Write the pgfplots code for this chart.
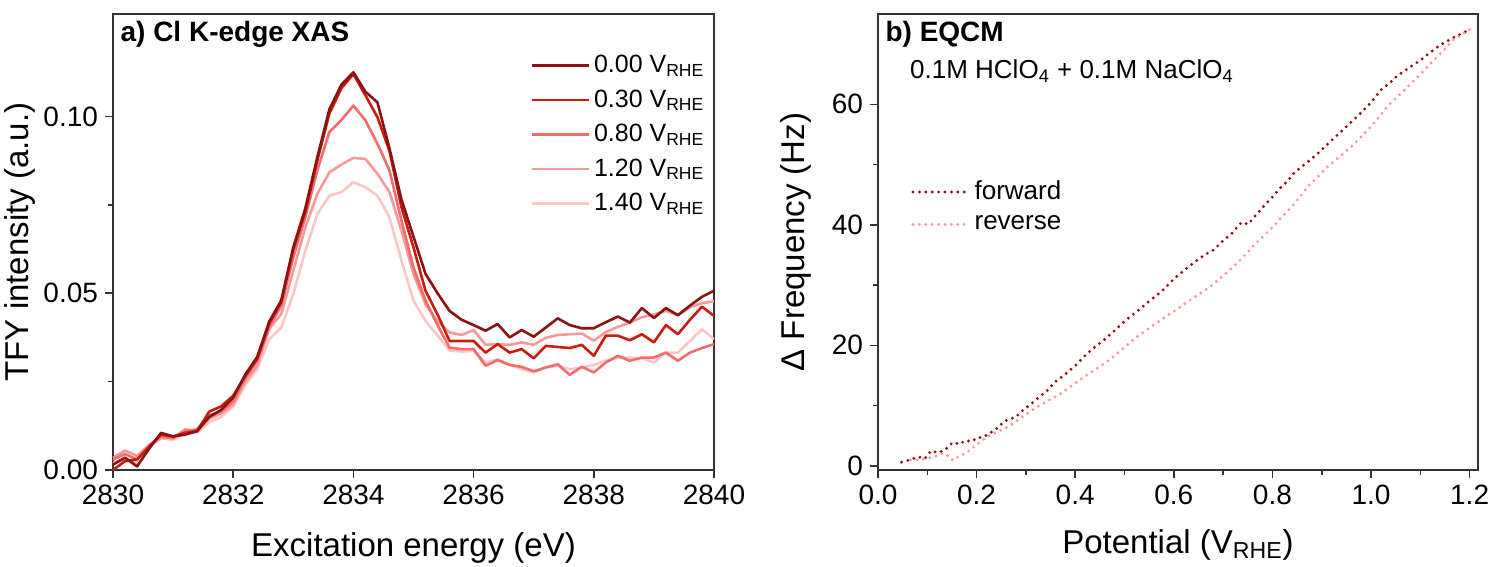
\documentclass[border=0pt]{standalone}
\usepackage{fontspec}
\setmainfont{Liberation Sans}
\usepackage{pgfplots}
\usepackage{pgfplotstable}
\pgfplotsset{compat=1.18}

\definecolor{c000}{RGB}{139,18,18}
\definecolor{c030}{RGB}{200,28,15}
\definecolor{c080}{RGB}{244,108,108}
\definecolor{c120}{RGB}{249,152,152}
\definecolor{c140}{RGB}{252,198,198}

% Cl K-edge XAS, TFY intensity at five potentials
\pgfplotstableread{
E      v000   v030   v080   v120   v140
2830.0 0.0015 0.0000 0.0030 0.0035 0.0020
2830.2 0.0035 0.0025 0.0045 0.0055 0.0030
2830.4 0.0010 0.0030 0.0030 0.0040 0.0020
2830.6 0.0060 0.0065 0.0070 0.0070 0.0065
2830.8 0.0105 0.0100 0.0095 0.0090 0.0090
2831.0 0.0095 0.0095 0.0090 0.0090 0.0085
2831.2 0.0100 0.0105 0.0110 0.0115 0.0105
2831.4 0.0110 0.0110 0.0115 0.0110 0.0105
2831.6 0.0150 0.0165 0.0155 0.0145 0.0135
2831.8 0.0170 0.0180 0.0165 0.0160 0.0150
2832.0 0.0205 0.0210 0.0195 0.0185 0.0180
2832.2 0.0270 0.0265 0.0260 0.0250 0.0240
2832.4 0.0320 0.0315 0.0310 0.0295 0.0285
2832.6 0.0420 0.0415 0.0405 0.0400 0.0370
2832.8 0.0480 0.0475 0.0465 0.0441 0.0403
2833.0 0.0630 0.0625 0.0602 0.0564 0.0498
2833.2 0.0740 0.0730 0.0715 0.0686 0.0620
2833.4 0.0885 0.0876 0.0848 0.0781 0.0724
2833.6 0.1020 0.1008 0.0956 0.0842 0.0776
2833.8 0.1090 0.1080 0.0990 0.0864 0.0786
2834.0 0.1125 0.1120 0.1031 0.0883 0.0814
2834.2 0.1070 0.1060 0.0989 0.0880 0.0800
2834.4 0.1040 0.0998 0.0923 0.0838 0.0776
2834.6 0.0910 0.0903 0.0848 0.0786 0.0715
2834.8 0.0765 0.0743 0.0705 0.0677 0.0592
2835.0 0.0660 0.0630 0.0573 0.0554 0.0479
2835.2 0.0555 0.0507 0.0479 0.0469 0.0422
2835.4 0.0500 0.0440 0.0410 0.0420 0.0380
2835.6 0.0450 0.0365 0.0346 0.0389 0.0338
2835.8 0.0425 0.0365 0.0342 0.0382 0.0335
2836.0 0.0410 0.0365 0.0342 0.0396 0.0337
2836.2 0.0394 0.0332 0.0295 0.0354 0.0304
2836.4 0.0413 0.0356 0.0311 0.0356 0.0313
2836.6 0.0375 0.0332 0.0297 0.0354 0.0299
2836.8 0.0396 0.0342 0.0292 0.0361 0.0285
2837.0 0.0377 0.0316 0.0279 0.0354 0.0276
2837.2 0.0403 0.0351 0.0290 0.0374 0.0290
2837.4 0.0429 0.0348 0.0299 0.0382 0.0295
2837.6 0.0410 0.0345 0.0269 0.0384 0.0285
2837.8 0.0401 0.0354 0.0292 0.0386 0.0290
2838.0 0.0401 0.0323 0.0276 0.0366 0.0297
2838.2 0.0418 0.0380 0.0304 0.0390 0.0309
2838.4 0.0434 0.0380 0.0323 0.0405 0.0318
2838.6 0.0417 0.0367 0.0309 0.0417 0.0318
2838.8 0.0458 0.0384 0.0318 0.0432 0.0316
2839.0 0.0430 0.0361 0.0318 0.0440 0.0304
2839.2 0.0458 0.0410 0.0332 0.0450 0.0332
2839.4 0.0438 0.0384 0.0309 0.0438 0.0332
2839.6 0.0465 0.0425 0.0332 0.0460 0.0365
2839.8 0.0490 0.0462 0.0345 0.0472 0.0398
2840.0 0.0507 0.0436 0.0356 0.0477 0.0370
}\xas

% EQCM, forward scan
\pgfplotstableread{
U     df
0.048 0.6
0.065 1.0
0.082 1.5
0.095 1.2
0.108 2.5
0.120 2.2
0.134 2.5
0.152 3.9
0.165 3.6
0.178 4.2
0.190 4.0
0.200 4.6
0.215 4.8
0.230 5.6
0.243 6.3
0.256 7.4
0.270 7.8
0.282 8.3
0.295 9.3
0.308 10.1
0.321 11.0
0.334 11.9
0.345 12.6
0.356 13.7
0.378 15.1
0.400 16.6
0.420 18.3
0.438 19.6
0.460 21.0
0.482 22.6
0.503 24.2
0.525 25.6
0.550 27.3
0.577 29.1
0.600 31.0
0.620 32.4
0.642 33.8
0.664 35.1
0.680 35.8
0.698 37.2
0.718 38.6
0.737 40.4
0.751 40.1
0.768 41.8
0.786 43.4
0.800 44.6
0.812 45.8
0.830 47.2
0.846 48.8
0.868 50.2
0.890 51.7
0.912 53.4
0.933 55.0
0.955 56.7
0.976 58.3
1.000 60.3
1.020 62.4
1.037 63.5
1.054 64.8
1.076 66.0
1.098 67.2
1.120 68.6
1.141 69.9
1.170 71.2
1.200 72.4
}\fwd

% EQCM, reverse scan
\pgfplotstableread{
U     df
1.200 72.4
1.185 71.6
1.167 70.7
1.150 69.2
1.133 67.8
1.115 66.3
1.098 64.8
1.068 62.4
1.037 60.0
1.020 58.3
1.002 56.5
0.980 54.6
0.959 52.9
0.933 51.1
0.907 49.3
0.890 47.8
0.872 46.4
0.855 44.5
0.837 42.8
0.820 41.4
0.803 39.8
0.780 38.0
0.759 36.3
0.738 34.4
0.716 32.7
0.695 31.2
0.673 29.7
0.650 28.4
0.629 27.3
0.603 25.8
0.577 24.4
0.551 22.9
0.525 21.4
0.499 19.6
0.473 17.8
0.447 16.3
0.421 14.9
0.395 13.4
0.369 11.9
0.343 10.7
0.317 9.5
0.291 8.0
0.265 6.5
0.243 5.7
0.221 4.8
0.200 3.5
0.178 2.1
0.165 1.6
0.152 0.9
0.143 1.6
0.134 2.1
0.117 1.6
0.100 1.2
0.078 1.0
0.056 0.9
}\rev

\pgfplotsset{
  panel/.style={
    scale only axis,
    width=300pt, height=228pt,
    axis line style={line width=0.8pt, black!80},
    tick align=outside,
    xtick pos=bottom, ytick pos=left,
    major tick length=4pt, minor tick length=2.5pt,
    every tick/.style={black!80, line width=0.8pt},
    minor tick num=1,
    tick label style={font=\fontsize{14}{16}\selectfont},
    label style={font=\fontsize{16.5}{19}\selectfont},
    /pgf/number format/assume math mode=true,
    legend cell align=left,
  },
}

\begin{document}
\begin{tikzpicture}
\useasboundingbox (-56.5pt,-48.5pt) rectangle (688.5pt,235pt);

\begin{axis}[panel,
  at={(0pt,0pt)},
  width=300.5pt,
  xmin=2830, xmax=2840, ymin=0, ymax=0.129,
  xtick={2830,2832,...,2840},
  ytick={0,0.05,0.10},
  x tick label style={/pgf/number format/set thousands separator={}},
  y tick label style={/pgf/number format/.cd, fixed, fixed zerofill, precision=2},
  scaled y ticks=false,
  xlabel={Excitation energy (eV)},
  ylabel={TFY intensity (a.u.)},
  xlabel style={at={(axis description cs:0.5,-0.172)}, anchor=center},
  ylabel style={at={(axis description cs:-0.155,0.5)}, anchor=center},
  reverse legend,
  legend style={draw=none, fill=none, at={(axis description cs:0.684,0.928)}, anchor=north west,
    font=\fontsize{12.5}{14}\selectfont, row sep=3pt,
    /tikz/every odd column/.append style={column sep=0pt}},
  legend image code/.code={\draw[#1] (0pt,0pt) -- (28.5pt,0pt);},
  every axis plot/.append style={line width=1.3pt, line join=round},
]
\addplot[c140] table[x=E, y=v140] {\xas};
\addlegendentry{1.40 V\textsubscript{RHE}}
\addplot[c120] table[x=E, y=v120] {\xas};
\addlegendentry{1.20 V\textsubscript{RHE}}
\addplot[c080] table[x=E, y=v080] {\xas};
\addlegendentry{0.80 V\textsubscript{RHE}}
\addplot[c030] table[x=E, y=v030] {\xas};
\addlegendentry{0.30 V\textsubscript{RHE}}
\addplot[c000] table[x=E, y=v000] {\xas};
\addlegendentry{0.00 V\textsubscript{RHE}}
\node[anchor=north west, inner sep=0pt, font=\fontsize{14}{16}\selectfont\bfseries]
  at (axis description cs:0.012,0.985) {a) Cl K-edge XAS};
\end{axis}

\begin{axis}[panel,
  at={(382.5pt,0pt)},
  xmin=0, xmax=1.217, ymin=-0.7, ymax=75,
  xtick={0,0.2,...,1.2},
  ytick={0,20,40,60},
  x tick label style={/pgf/number format/.cd, fixed, fixed zerofill, precision=1},
  xlabel={Potential (V\textsubscript{RHE})},
  ylabel={Δ Frequency (Hz)},
  xlabel style={at={(axis description cs:0.5,-0.165)}, anchor=center},
  ylabel style={at={(axis description cs:-0.137,0.5)}, anchor=center},
  legend style={draw=none, fill=none, at={(axis description cs:0.045,0.652)}, anchor=north west,
    font=\fontsize{13}{15}\selectfont, row sep=2.5pt,
    /tikz/every odd column/.append style={column sep=0pt}},
  legend image code/.code={\draw[#1] (0pt,0pt) -- (28pt,0pt);},
  every axis plot/.append style={line width=1.6pt, line cap=round, dash pattern=on 0pt off 3.2pt},
]
\addplot[c000] table[x=U, y=df] {\fwd};
\addlegendentry{forward}
\addplot[c120] table[x=U, y=df] {\rev};
\addlegendentry{reverse}
\node[anchor=north west, inner sep=0pt, font=\fontsize{14}{16}\selectfont\bfseries]
  at (axis description cs:0.012,0.985) {b) EQCM};
\node[anchor=west, inner sep=0pt, font=\fontsize{13}{15}\selectfont]
  at (axis description cs:0.053,0.875) {0.1M HClO\textsubscript{4} + 0.1M NaClO\textsubscript{4}};
\end{axis}
\end{tikzpicture}
\end{document}
